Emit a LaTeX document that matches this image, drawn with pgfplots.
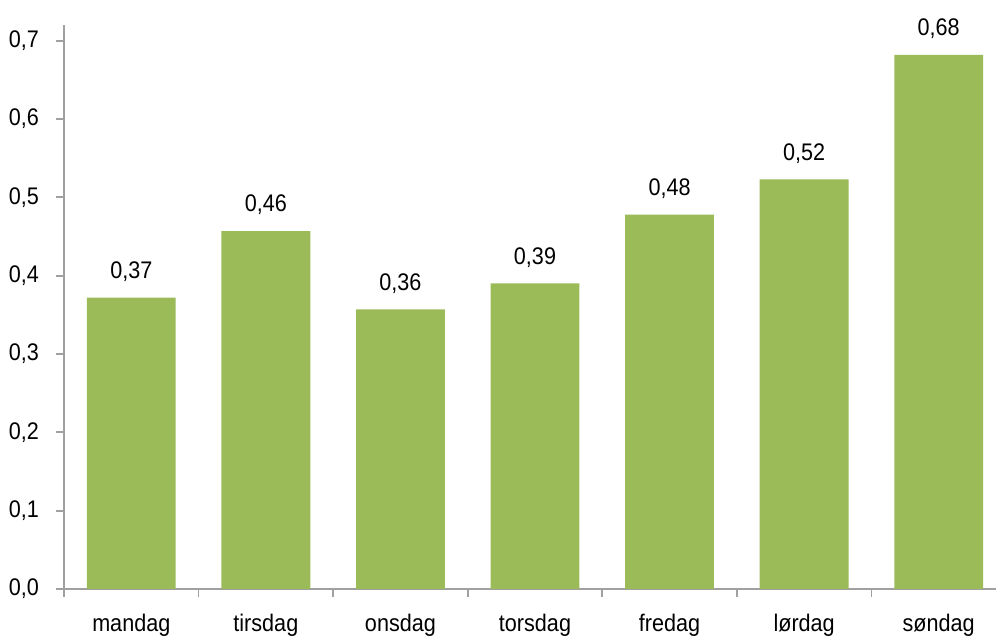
\documentclass[border=0pt]{standalone}
\usepackage{pgfplots}
\pgfplotsset{compat=1.18}
\usepackage{fontspec}
\setmainfont{Liberation Sans}[FakeStretch=0.9]
\definecolor{bargreen}{HTML}{9BBB59}
\definecolor{axgray}{HTML}{A0A0A0}

\begin{document}
\begin{tikzpicture}
\begin{axis}[
  width=471pt, height=282pt,
  scale only axis,
  xmin=-0.5, xmax=6.5,
  ymin=0, ymax=0.72,
  axis x line*=bottom, axis y line*=left,
  axis line style={axgray, line width=0.9pt, -},
  xtick={0,...,6},
  xticklabels={mandag,tirsdag,onsdag,torsdag,fredag,lørdag,søndag},
  major x tick style={draw=none},
  minor xtick={-0.5,0.5,...,6.5},
  minor tick length=4pt,
  x tick style={axgray, line width=0.9pt},
  ytick={0,0.1,...,0.7},
  y tick style={axgray, line width=0.9pt},
  major tick length=4pt,
  tick align=outside,
  yticklabel style={/pgf/number format/fixed, /pgf/number format/fixed zerofill,
    /pgf/number format/precision=1, /pgf/number format/use comma, xshift=-5pt},
  /pgf/number format/assume math mode=true,
  xticklabel style={yshift=-5pt},
  tick label style={font=\fontsize{12}{14}\selectfont},
  ybar, bar width=0.66,
  nodes near coords,
  nodes near coords style={font=\fontsize{12}{14}\selectfont, yshift=4.5pt,
    /pgf/number format/fixed, /pgf/number format/fixed zerofill,
    /pgf/number format/precision=2, /pgf/number format/use comma},
]
\addplot[fill=bargreen, draw=none] coordinates {
(0,0.372) (1,0.457) (2,0.357) (3,0.390) (4,0.478) (5,0.523) (6,0.682)
};
\coordinate (sw) at (rel axis cs:0,0);
\coordinate (ne) at (rel axis cs:1,1);
\end{axis}
\pgfresetboundingbox
\path ([xshift=-32pt,yshift=-24pt]sw) rectangle ([xshift=-5pt,yshift=12.5pt]ne);
\end{tikzpicture}
\end{document}
